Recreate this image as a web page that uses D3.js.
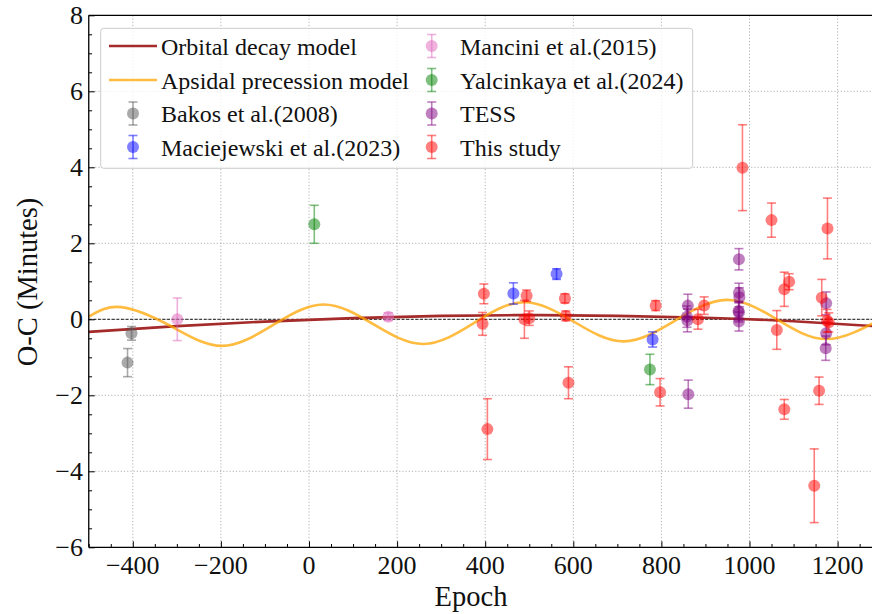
<!DOCTYPE html>
<html lang="en">
  <head>
    <meta charset="UTF-8" />
    <title>O-C diagram</title>
    <style>
      body {
        margin: 0;
        background: #fff;
        font-family: "Liberation Serif", "Times New Roman", serif;
      }
      svg text {
        fill: #111;
      }
      .grid line {
        stroke: #b0b0b0;
        stroke-width: 1;
        stroke-dasharray: 1.2, 2;
      }
    </style>
  </head>
  <body>
    <svg id="chart" width="872" height="614"></svg>
    <script src="https://d3js.org/d3.v7.min.js"></script>
    <script>
      // tick values
      const epochTicks = [-400, -200, 0, 200, 400, 600, 800, 1000, 1200];
      const ocTicks = [-6, -4, -2, 0, 2, 4, 6, 8];

      // model curves: [epoch, O-C]
      const decayModel = [
        [-500, -0.33], [-300, -0.18], [-100, -0.06], [100, 0.03], [300, 0.09],
        [500, 0.11], [700, 0.09], [900, 0.04], [1100, -0.05], [1300, -0.19]
      ];
      const apsidalModel = [
        [-500, 0.07], [-426, 0.32], [-312, -0.19], [-198, -0.70], [-83, -0.16],
        [32, 0.39], [146, -0.13], [260, -0.65], [374, -0.10], [487, 0.45],
        [601, -0.06], [715, -0.58], [832, -0.03], [948, 0.51], [1062, 0.0],
        [1175, -0.52], [1300, 0.02]
      ];

      // observations: [epoch, O-C (min), error]
      const bakos = [[-403, -0.37, 0.18], [-412, -1.14, 0.37]];
      const maciejewski = [[464, 0.68, 0.28], [562, 1.19, 0.14], [780, -0.53, 0.2]];
      const mancini = [[-299, 0.0, 0.56], [180, 0.07, 0.1]];
      const yalcinkaya = [[12, 2.5, 0.5], [774, -1.32, 0.4]];
      const tess = [
        [860, 0.36, 0.3], [858, 0.07, 0.28], [859, -0.03, 0.3], [861, -1.97, 0.37],
        [976, 1.58, 0.28], [976, 0.7, 0.25], [977, 0.58, 0.25], [975, 0.22, 0.25],
        [976, 0.18, 0.25], [976, -0.06, 0.25],
        [1174, 0.42, 0.3], [1174, -0.37, 0.3], [1173, -0.76, 0.32]
      ];
      const thisStudy = [
        [397, 0.67, 0.26], [394, -0.12, 0.3], [405, -2.89, 0.8],
        [494, 0.62, 0.15], [489, 0.0, 0.5], [500, 0.03, 0.19],
        [581, 0.55, 0.12], [583, 0.09, 0.13], [589, -1.67, 0.42],
        [787, 0.36, 0.13], [797, -1.92, 0.36], [883, 0.0, 0.26], [897, 0.36, 0.23],
        [984, 3.99, 1.13], [1050, 2.61, 0.45], [1062, -0.28, 0.51],
        [1079, 0.79, 0.45], [1090, 0.99, 0.21], [1079, -2.37, 0.26],
        [1147, -4.38, 0.97], [1158, -1.88, 0.36], [1164, 0.57, 0.48],
        [1177, 2.39, 0.8], [1176, -0.04, 0.3], [1180, -0.08, 0.25]
      ];

      const series = [
        { name: "Bakos et al.(2008)", data: bakos, color: "#555555" },
        { name: "Maciejewski et al.(2023)", data: maciejewski, color: "blue" },
        { name: "Mancini et al.(2015)", data: mancini, color: "#dd66bb" },
        { name: "Yalcinkaya et al.(2024)", data: yalcinkaya, color: "green" },
        { name: "TESS", data: tess, color: "purple" },
        { name: "This study", data: thisStudy, color: "red" }
      ];

      const plotLeft = 88.75, plotTop = 15.3, plotBottom = 547.3;
      const plotRight = plotLeft + 1800 * 0.4405;

      const x = d3.scaleLinear().domain([-500, 1300]).range([plotLeft, plotRight]);
      const y = d3.scaleLinear().domain([-6, 8]).range([plotBottom, plotTop]);

      const svg = d3.select("#chart");

      // grid
      const grid = svg.append("g").attr("class", "grid");
      grid.selectAll(".gx")
        .data(epochTicks)
        .enter().append("line")
        .attr("x1", d => x(d)).attr("x2", d => x(d))
        .attr("y1", plotTop).attr("y2", plotBottom);
      grid.selectAll(".gy")
        .data(ocTicks.slice(1, -1))
        .enter().append("line")
        .attr("x1", plotLeft).attr("x2", plotRight)
        .attr("y1", d => y(d)).attr("y2", d => y(d));

      // zero line
      svg.append("line")
        .attr("x1", plotLeft).attr("x2", plotRight)
        .attr("y1", y(0)).attr("y2", y(0))
        .attr("stroke", "#000")
        .attr("stroke-width", 0.9)
        .attr("stroke-dasharray", "3,1.6");

      const line = d3.line()
        .x(d => x(d[0]))
        .y(d => y(d[1]))
        .curve(d3.curveNatural);

      svg.append("path")
        .datum(decayModel)
        .attr("d", line)
        .attr("fill", "none")
        .attr("stroke", "#a52a2a")
        .attr("stroke-width", 2.6);

      svg.append("path")
        .datum(apsidalModel)
        .attr("d", line)
        .attr("fill", "none")
        .attr("stroke", "#ffa500")
        .attr("stroke-opacity", 0.75)
        .attr("stroke-width", 2.6);

      // error bar points
      function drawPoint(g, cx, cy, errPx, color) {
        const bar = g.append("g")
          .attr("stroke", color)
          .attr("stroke-opacity", 0.5)
          .attr("stroke-width", 1.6);
        bar.append("line")
          .attr("x1", cx).attr("x2", cx)
          .attr("y1", cy - errPx).attr("y2", cy + errPx);
        bar.append("line")
          .attr("x1", cx - 4.5).attr("x2", cx + 4.5)
          .attr("y1", cy - errPx).attr("y2", cy - errPx);
        bar.append("line")
          .attr("x1", cx - 4.5).attr("x2", cx + 4.5)
          .attr("y1", cy + errPx).attr("y2", cy + errPx);
        g.append("circle")
          .attr("cx", cx).attr("cy", cy)
          .attr("r", 6)
          .attr("fill", color)
          .attr("fill-opacity", 0.5);
      }

      const pts = svg.append("g");
      series.forEach(s => {
        s.data.forEach(d => {
          drawPoint(pts, x(d[0]), y(d[1]), y(0) - y(d[2]), s.color);
        });
      });

      // axes frame
      svg.append("line")
        .attr("x1", plotLeft).attr("x2", plotLeft).attr("y1", plotTop).attr("y2", plotBottom)
        .attr("stroke", "#000").attr("stroke-width", 1.3);
      svg.append("line")
        .attr("x1", plotLeft).attr("x2", plotRight).attr("y1", plotBottom).attr("y2", plotBottom)
        .attr("stroke", "#000").attr("stroke-width", 1.3);
      svg.append("line")
        .attr("x1", plotLeft).attr("x2", plotRight).attr("y1", plotTop).attr("y2", plotTop)
        .attr("stroke", "#000").attr("stroke-width", 1.3);

      const fmt = d3.format("d");

      // x ticks (inward)
      const xAxis = d3.axisTop(x)
        .tickValues(epochTicks)
        .tickSize(6)
        .tickFormat("");
      const xMinor = d3.axisTop(x)
        .tickValues(d3.range(-500, 1301, 50).filter(v => v % 200 !== 0))
        .tickSize(3.3)
        .tickFormat("");
      [xAxis, xMinor].forEach(ax => {
        const g = svg.append("g").attr("transform", `translate(0,${plotBottom})`).call(ax);
        g.select(".domain").remove();
        g.selectAll("line").attr("stroke", "#000").attr("stroke-width", 1);
      });

      svg.append("g")
        .selectAll("text")
        .data(epochTicks)
        .enter().append("text")
        .attr("x", d => x(d))
        .attr("y", 574)
        .attr("text-anchor", "middle")
        .attr("font-size", 26)
        .text(d => fmt(d));

      // y ticks (inward)
      const yAxis = d3.axisRight(y)
        .tickValues(ocTicks)
        .tickSize(6)
        .tickFormat("");
      const yMinor = d3.axisRight(y)
        .tickValues(d3.range(-6, 8.01, 0.5).filter(v => v % 2 !== 0))
        .tickSize(3.3)
        .tickFormat("");
      [yAxis, yMinor].forEach(ax => {
        const g = svg.append("g").attr("transform", `translate(${plotLeft},0)`).call(ax);
        g.select(".domain").remove();
        g.selectAll("line").attr("stroke", "#000").attr("stroke-width", 1);
      });

      svg.append("g")
        .selectAll("text")
        .data(ocTicks)
        .enter().append("text")
        .attr("x", 83)
        .attr("y", d => y(d) + 9)
        .attr("text-anchor", "end")
        .attr("font-size", 26)
        .text(d => fmt(d));

      // axis titles
      svg.append("text")
        .attr("x", 471)
        .attr("y", 606)
        .attr("text-anchor", "middle")
        .attr("font-size", 28.5)
        .text("Epoch");

      svg.append("text")
        .attr("transform", "translate(37,282) rotate(-90)")
        .attr("text-anchor", "middle")
        .attr("font-size", 28.5)
        .text("O-C (Minutes)");

      // legend
      const legend = svg.append("g");
      legend.append("rect")
        .attr("x", 100.7).attr("y", 28.3)
        .attr("width", 592).attr("height", 140)
        .attr("rx", 3)
        .attr("fill", "#fff")
        .attr("fill-opacity", 0.8)
        .attr("stroke", "#cccccc")
        .attr("stroke-width", 1);

      const rowY = [46, 80, 113.5, 147];
      const legendItems = [
        { name: "Orbital decay model", line: "#a52a2a", op: 1, col: 0, row: 0 },
        { name: "Apsidal precession model", line: "#ffa500", op: 0.75, col: 0, row: 1 },
        { name: series[0].name, color: series[0].color, col: 0, row: 2 },
        { name: series[1].name, color: series[1].color, col: 0, row: 3 },
        { name: series[2].name, color: series[2].color, col: 1, row: 0 },
        { name: series[3].name, color: series[3].color, col: 1, row: 1 },
        { name: series[4].name, color: series[4].color, col: 1, row: 2 },
        { name: series[5].name, color: series[5].color, col: 1, row: 3 }
      ];
      const handleX = [133, 431.7];
      const textX = [161, 460];

      legendItems.forEach(it => {
        const cy = rowY[it.row];
        const hx = handleX[it.col];
        if (it.line) {
          legend.append("line")
            .attr("x1", hx - 24).attr("x2", hx + 24)
            .attr("y1", cy).attr("y2", cy)
            .attr("stroke", it.line)
            .attr("stroke-opacity", it.op)
            .attr("stroke-width", 2.6);
        } else {
          drawPoint(legend, hx, cy, 11.5, it.color);
        }
        legend.append("text")
          .attr("x", textX[it.col])
          .attr("y", cy + 8.5)
          .attr("font-size", 24)
          .text(it.name);
      });
    </script>
  </body>
</html>
